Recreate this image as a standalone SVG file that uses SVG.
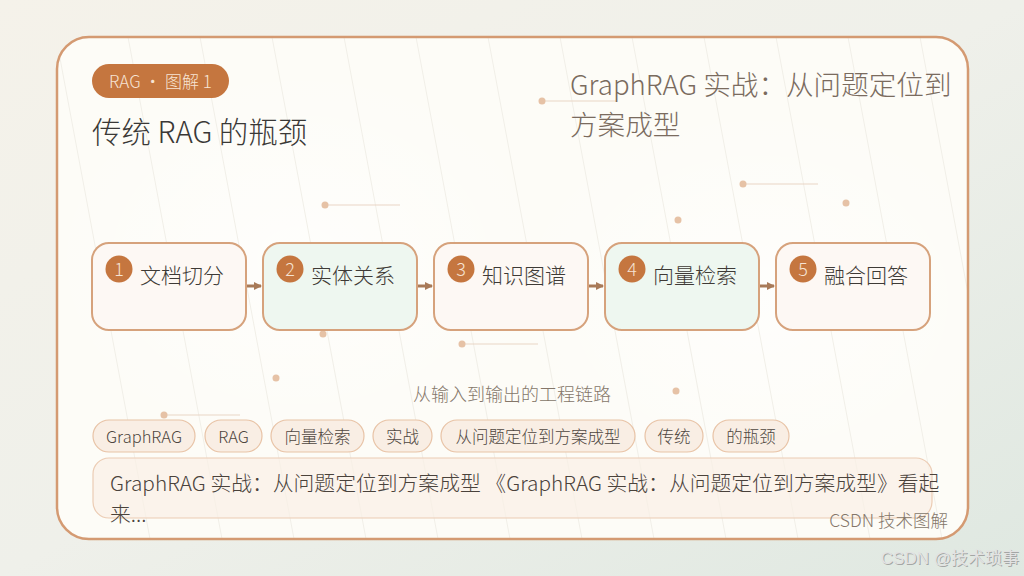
<svg xmlns="http://www.w3.org/2000/svg" width="1024" height="576" viewBox="0 0 1024 576">
  <defs>
    <linearGradient id="bg" x1="0" y1="0" x2="1" y2="1">
      <stop offset="0" stop-color="#f5f2ea"/>
      <stop offset="0.5" stop-color="#eff0ea"/>
      <stop offset="1" stop-color="#dfe8e1"/>
    </linearGradient>
    <radialGradient id="glow" cx="0.5" cy="0.5" r="0.5">
      <stop offset="0" stop-color="#ffffff" stop-opacity="0.6"/>
      <stop offset="1" stop-color="#ffffff" stop-opacity="0"/>
    </radialGradient>
    <clipPath id="cardClip">
      <rect x="57" y="37" width="911" height="502" rx="32"/>
    </clipPath>
    <marker id="arrow" viewBox="0 0 8 8" refX="7" refY="4" markerWidth="8" markerHeight="8" markerUnits="userSpaceOnUse" orient="auto">
      <path d="M0,0 L8,4 L0,8 Z" fill="#a87a58"/>
    </marker>
    <style>
      .cjk { font-family: "Noto Sans CJK SC", "Noto Sans", sans-serif; font-weight: 300; }
      .node { stroke: #d6a27c; stroke-width: 2; }
      .warm { fill: #fdf8f4; }
      .mint { fill: #eef7f0; }
      .badge { fill: #c5763f; }
      .num { fill: #f6e3d2; font-size: 18px; text-anchor: middle; }
      .label { fill: #3e3a36; font-size: 21px; }
      .tag { fill: #f9eee4; stroke: #e8c3a6; stroke-width: 1.2; }
      .tagtext { fill: #4e4640; font-size: 16.5px; text-anchor: middle; }
      .deco { fill: #e6c2a6; }
      .decoline { stroke: #ead6c6; stroke-width: 1.2; }
      .stripe { stroke: #f1efe8; stroke-width: 1; }
      .conn { stroke: #a87a58; stroke-width: 3; fill: none; }
    </style>
  </defs>

  <rect x="0" y="0" width="1024" height="576" fill="url(#bg)"/>

  <g id="card">
    <rect x="57" y="37" width="911" height="502" rx="32" fill="#fdfcf7"/>
    <g clip-path="url(#cardClip)">
      <ellipse cx="300" cy="260" rx="260" ry="200" fill="url(#glow)"/>
      <ellipse cx="760" cy="300" rx="260" ry="200" fill="url(#glow)"/>
      <g class="stripe">
        <line x1="56" y1="37" x2="150" y2="539"/>
        <line x1="128" y1="37" x2="222" y2="539"/>
        <line x1="200" y1="37" x2="294" y2="539"/>
        <line x1="272" y1="37" x2="366" y2="539"/>
        <line x1="344" y1="37" x2="438" y2="539"/>
        <line x1="416" y1="37" x2="510" y2="539"/>
        <line x1="488" y1="37" x2="582" y2="539"/>
        <line x1="560" y1="37" x2="654" y2="539"/>
        <line x1="632" y1="37" x2="726" y2="539"/>
        <line x1="704" y1="37" x2="798" y2="539"/>
        <line x1="776" y1="37" x2="870" y2="539"/>
        <line x1="848" y1="37" x2="942" y2="539"/>
        <line x1="920" y1="37" x2="1014" y2="539"/>
      </g>
    </g>
    <rect x="57" y="37" width="911" height="502" rx="32" fill="none" stroke="#d49a72" stroke-width="2.5"/>
  </g>

  <g id="decor">
    <line class="decoline" x1="542" y1="101" x2="616" y2="101"/>
    <circle class="deco" cx="542" cy="101" r="3.5"/>
    <line class="decoline" x1="325" y1="205" x2="400" y2="205"/>
    <circle class="deco" cx="325" cy="205" r="3.5"/>
    <line class="decoline" x1="743" y1="184" x2="818" y2="184"/>
    <circle class="deco" cx="743" cy="184" r="3.5"/>
    <circle class="deco" cx="846" cy="203" r="3.5"/>
    <circle class="deco" cx="678" cy="220" r="3.5"/>
    <circle class="deco" cx="323" cy="334" r="3.5"/>
    <line class="decoline" x1="462" y1="344" x2="538" y2="344"/>
    <circle class="deco" cx="462" cy="344" r="3.5"/>
    <circle class="deco" cx="276" cy="378" r="3.5"/>
    <circle class="deco" cx="676" cy="391" r="3.5"/>
    <line class="decoline" x1="164" y1="415" x2="240" y2="415"/>
    <circle class="deco" cx="164" cy="415" r="3.5"/>
  </g>

  <g id="header">
    <rect x="92" y="64" width="137" height="34" rx="17" fill="#c5763f"/>
    <text class="cjk" x="160.5" y="87.5" font-size="17" fill="#f7e4d4" text-anchor="middle">RAG · 图解 1</text>
    <text class="cjk" x="92" y="143" font-size="29.5" fill="#3a3836">传统 RAG 的瓶颈</text>
    <text class="cjk" x="570" y="95" font-size="27.6" fill="#7a6b5e">GraphRAG 实战：从问题定位到</text>
    <text class="cjk" x="570" y="135" font-size="27.6" fill="#7a6b5e">方案成型</text>
  </g>

  <g id="connectors">
    <line class="conn" x1="247" y1="286" x2="261" y2="286" marker-end="url(#arrow)"/>
    <line class="conn" x1="418" y1="286" x2="432" y2="286" marker-end="url(#arrow)"/>
    <line class="conn" x1="589" y1="286" x2="603" y2="286" marker-end="url(#arrow)"/>
    <line class="conn" x1="760" y1="286" x2="774" y2="286" marker-end="url(#arrow)"/>
  </g>

  <g id="node1">
    <rect class="node warm" x="92" y="243" width="154" height="87" rx="17"/>
    <circle class="badge" cx="119" cy="269" r="13.5"/>
    <text class="cjk num" x="119" y="275.5">1</text>
    <text class="cjk label" x="140" y="283">文档切分</text>
  </g>
  <g id="node2">
    <rect class="node mint" x="263" y="243" width="154" height="87" rx="17"/>
    <circle class="badge" cx="290" cy="269" r="13.5"/>
    <text class="cjk num" x="290" y="275.5">2</text>
    <text class="cjk label" x="311" y="283">实体关系</text>
  </g>
  <g id="node3">
    <rect class="node warm" x="434" y="243" width="154" height="87" rx="17"/>
    <circle class="badge" cx="461" cy="269" r="13.5"/>
    <text class="cjk num" x="461" y="275.5">3</text>
    <text class="cjk label" x="482" y="283">知识图谱</text>
  </g>
  <g id="node4">
    <rect class="node mint" x="605" y="243" width="154" height="87" rx="17"/>
    <circle class="badge" cx="632" cy="269" r="13.5"/>
    <text class="cjk num" x="632" y="275.5">4</text>
    <text class="cjk label" x="653" y="283">向量检索</text>
  </g>
  <g id="node5">
    <rect class="node warm" x="776" y="243" width="154" height="87" rx="17"/>
    <circle class="badge" cx="803" cy="269" r="13.5"/>
    <text class="cjk num" x="803" y="275.5">5</text>
    <text class="cjk label" x="824" y="283">融合回答</text>
  </g>

  <g id="subtitle">
    <text class="cjk" x="512" y="401" font-size="18" fill="#85776a" text-anchor="middle">从输入到输出的工程链路</text>
  </g>

  <g id="tags">
    <rect class="tag" x="93" y="420" width="102" height="32" rx="16"/>
    <text class="cjk tagtext" x="144" y="442.5">GraphRAG</text>
    <rect class="tag" x="205" y="420" width="57" height="32" rx="16"/>
    <text class="cjk tagtext" x="233.5" y="442.5">RAG</text>
    <rect class="tag" x="271" y="420" width="93" height="32" rx="16"/>
    <text class="cjk tagtext" x="317.5" y="442.5">向量检索</text>
    <rect class="tag" x="373" y="420" width="59" height="32" rx="16"/>
    <text class="cjk tagtext" x="402.5" y="442.5">实战</text>
    <rect class="tag" x="441" y="420" width="194" height="32" rx="16"/>
    <text class="cjk tagtext" x="538" y="442.5">从问题定位到方案成型</text>
    <rect class="tag" x="645" y="420" width="58" height="32" rx="16"/>
    <text class="cjk tagtext" x="674" y="442.5">传统</text>
    <rect class="tag" x="713" y="420" width="76" height="32" rx="16"/>
    <text class="cjk tagtext" x="751" y="442.5">的瓶颈</text>
  </g>

  <g id="summary">
    <rect x="93" y="458" width="839" height="60" rx="16" fill="#f9efe6" fill-opacity="0.7" stroke="#ecccb4" stroke-width="1.2"/>
    <text class="cjk" x="110" y="491" font-size="20.8" fill="#4a423b">GraphRAG 实战：从问题定位到方案成型 《GraphRAG 实战：从问题定位到方案成型》看起</text>
    <text class="cjk" x="110" y="522" font-size="20.8" fill="#4a423b">来...</text>
  </g>

  <g id="footer">
    <text class="cjk" x="948" y="527" font-size="17.5" fill="#85776a" text-anchor="end">CSDN 技术图解</text>
  </g>

  <g id="watermark">
    <text x="1020" y="565" font-family="'Liberation Sans', 'Noto Sans CJK SC', sans-serif" font-size="17" fill="#8a8a8a" fill-opacity="0.7" text-anchor="end">CSDN @技术琐事</text>
    <text x="1019" y="564" font-family="'Liberation Sans', 'Noto Sans CJK SC', sans-serif" font-size="17" fill="#e2e2e2" text-anchor="end">CSDN @技术琐事</text>
  </g>
</svg>
